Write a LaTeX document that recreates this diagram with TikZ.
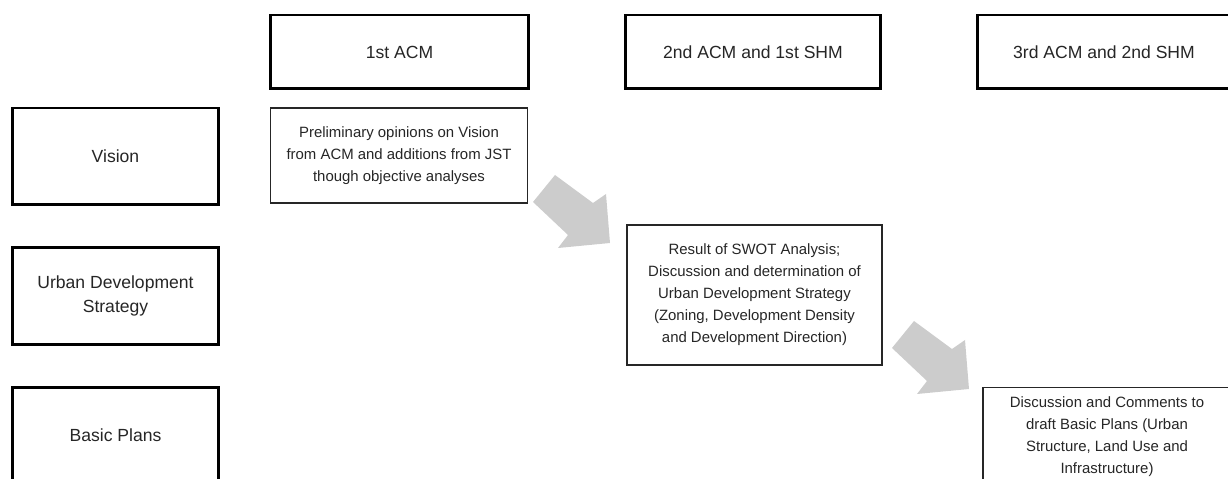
\documentclass[tikz,border=0pt]{standalone}
\usepackage{fontspec}
\setmainfont{Liberation Sans}
\usetikzlibrary{calc}
\begin{document}
\begin{tikzpicture}[x=0.02cm,y=-0.02cm,
  headbox/.style={draw=black,line width=1.7pt,fill=white,minimum height=1.48cm,align=center,inner sep=0pt,font=\fontsize{10}{13.6}\selectfont,text=black!85},
  rowbox/.style={draw=black,line width=1.7pt,fill=white,minimum width=4.14cm,minimum height=1.94cm,align=center,inner sep=0pt,font=\fontsize{10}{13.6}\selectfont,text=black!85},
  infobox/.style={draw=black!85,line width=0.7pt,fill=white,align=center,inner sep=0pt,font=\fontsize{8.5}{12.5}\selectfont,text=black!85},
  grayarrow/.style={fill=black!20,draw=none}
]
\useasboundingbox (0,0) rectangle (1228,479);

% column headers
\node[headbox,minimum width=5.18cm] (h1) at (399.5,52) {1st ACM};
\node[headbox,minimum width=5.12cm] (h2) at (753,52) {2nd ACM and 1st SHM};
\node[headbox,minimum width=5.08cm] (h3) at (1104,52) {3rd ACM and 2nd SHM};

% row labels
\node[rowbox] (r1) at (115.5,156.5) {Vision};
\node[rowbox] (r2) at (115.5,296) {Urban Development\\Strategy};
\node[rowbox] (r3) at (115.5,435.5) {Basic Plans};

% content boxes
\node[infobox,minimum width=5.14cm,minimum height=1.9cm] (c1) at (399,155.5)
  {Preliminary opinions on Vision\\from ACM and additions from JST\\though objective analyses};
\node[infobox,minimum width=5.1cm,minimum height=2.8cm] (c2) at (754.5,295)
  {Result of SWOT Analysis;\\Discussion and determination of\\Urban Development Strategy\\(Zoning, Development Density\\and Development Direction)};
\node[infobox,minimum width=4.96cm,minimum height=1.96cm] (c3) at (1107,436.5)
  {Discussion and Comments to\\draft Basic Plans (Urban\\Structure, Land Use and\\Infrastructure)};

% block arrows
\coordinate (a1) at (533,202);
\coordinate (a2) at ($(a1)+(359,146)$);
\foreach \p in {a1,a2}{
  \fill[grayarrow] (\p) -- ++(22,-27) -- ++(38,28) -- ++(13,-9) -- ++(4,49) -- ++(-52,5) -- ++(10,-13) -- cycle;
}
\end{tikzpicture}
\end{document}
